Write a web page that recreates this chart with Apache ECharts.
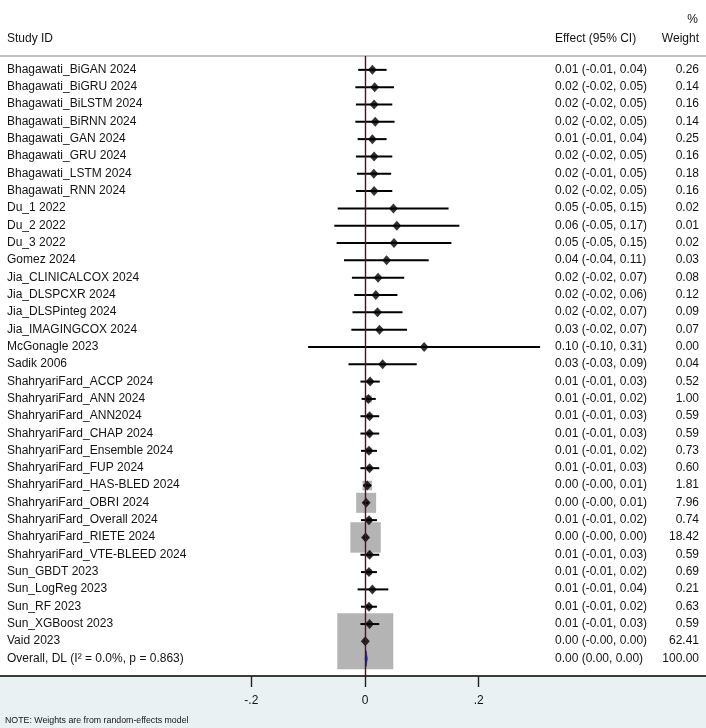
<!DOCTYPE html>
<html>
<head>
<meta charset="utf-8">
<script src="https://cdn.jsdelivr.net/npm/echarts@6.0.0/dist/echarts.min.js"></script>
<style>
  html, body { margin: 0; padding: 0; background: #fff; }
  #chart { width: 706px; height: 728px; }
</style>
</head>
<body>
<div id="chart"></div>
<script>
const studies = [
  'Bhagawati_BiGAN 2024', 'Bhagawati_BiGRU 2024', 'Bhagawati_BiLSTM 2024', 'Bhagawati_BiRNN 2024',
  'Bhagawati_GAN 2024', 'Bhagawati_GRU 2024', 'Bhagawati_LSTM 2024', 'Bhagawati_RNN 2024',
  'Du_1 2022', 'Du_2 2022', 'Du_3 2022', 'Gomez 2024',
  'Jia_CLINICALCOX 2024', 'Jia_DLSPCXR 2024', 'Jia_DLSPinteg 2024', 'Jia_IMAGINGCOX 2024',
  'McGonagle 2023', 'Sadik 2006',
  'ShahryariFard_ACCP 2024', 'ShahryariFard_ANN 2024', 'ShahryariFard_ANN2024', 'ShahryariFard_CHAP 2024',
  'ShahryariFard_Ensemble 2024', 'ShahryariFard_FUP 2024', 'ShahryariFard_HAS-BLED 2024', 'ShahryariFard_OBRI 2024',
  'ShahryariFard_Overall 2024', 'ShahryariFard_RIETE 2024', 'ShahryariFard_VTE-BLEED 2024',
  'Sun_GBDT 2023', 'Sun_LogReg 2023', 'Sun_RF 2023', 'Sun_XGBoost 2023', 'Vaid 2023',
]
// point estimates and CI bounds
const effect = [0.013, 0.017, 0.016, 0.018, 0.013, 0.016, 0.0155, 0.016, 0.050, 0.056, 0.051, 0.038,
  0.023, 0.019, 0.022, 0.0255, 0.104, 0.031, 0.009, 0.006, 0.008, 0.008, 0.007, 0.008, 0.004, 0.002,
  0.007, 0.001, 0.008, 0.007, 0.013, 0.007, 0.008, 0.0005]
const lower = [-0.012, -0.017, -0.016, -0.017, -0.013, -0.016, -0.014, -0.016, -0.048, -0.054, -0.050, -0.037,
  -0.023, -0.019, -0.022, -0.024, -0.100, -0.029, -0.008, -0.006, -0.008, -0.008, -0.007, -0.008, -0.003, -0.002,
  -0.007, -0.002, -0.008, -0.007, -0.013, -0.007, -0.008, -0.001]
const upper = [0.038, 0.051, 0.048, 0.052, 0.038, 0.048, 0.046, 0.048, 0.147, 0.166, 0.152, 0.112,
  0.069, 0.057, 0.066, 0.074, 0.308, 0.091, 0.026, 0.019, 0.025, 0.025, 0.021, 0.025, 0.011, 0.006,
  0.021, 0.004, 0.025, 0.021, 0.041, 0.021, 0.025, 0.001]
const ciText = [
  '0.01 (-0.01, 0.04)', '0.02 (-0.02, 0.05)', '0.02 (-0.02, 0.05)', '0.02 (-0.02, 0.05)',
  '0.01 (-0.01, 0.04)', '0.02 (-0.02, 0.05)', '0.02 (-0.01, 0.05)', '0.02 (-0.02, 0.05)',
  '0.05 (-0.05, 0.15)', '0.06 (-0.05, 0.17)', '0.05 (-0.05, 0.15)', '0.04 (-0.04, 0.11)',
  '0.02 (-0.02, 0.07)', '0.02 (-0.02, 0.06)', '0.02 (-0.02, 0.07)', '0.03 (-0.02, 0.07)',
  '0.10 (-0.10, 0.31)', '0.03 (-0.03, 0.09)',
  '0.01 (-0.01, 0.03)', '0.01 (-0.01, 0.02)', '0.01 (-0.01, 0.03)', '0.01 (-0.01, 0.03)',
  '0.01 (-0.01, 0.02)', '0.01 (-0.01, 0.03)', '0.00 (-0.00, 0.01)', '0.00 (-0.00, 0.01)',
  '0.01 (-0.01, 0.02)', '0.00 (-0.00, 0.00)', '0.01 (-0.01, 0.03)',
  '0.01 (-0.01, 0.02)', '0.01 (-0.01, 0.04)', '0.01 (-0.01, 0.02)', '0.01 (-0.01, 0.03)', '0.00 (-0.00, 0.00)',
]
const weights = [0.26, 0.14, 0.16, 0.14, 0.25, 0.16, 0.18, 0.16, 0.02, 0.01, 0.02, 0.03,
  0.08, 0.12, 0.09, 0.07, 0.00, 0.04, 0.52, 1.00, 0.59, 0.59, 0.73, 0.60, 1.81, 7.96,
  0.74, 18.42, 0.59, 0.69, 0.21, 0.63, 0.59, 62.41]

const pooledLabel = 'Overall, DL (I² = 0.0%, p = 0.863)'
const pooledCi = [0.0002, 0.0020, 0.0042]
const pooledText = '0.00 (0.00, 0.00)'
const pooledWeight = 100.00

const labels = [...studies, pooledLabel]
const ciLabels = [...ciText, pooledText]
const weightLabels = [...weights, pooledWeight].map((w) => w.toFixed(2))

const W = 706
const zeroX = 365
const pxPerUnit = 568.5
const textColor = '#141414'
const font = '"Liberation Sans", Arial, Helvetica, sans-serif'
const boxScale = 7.09

const chart = echarts.init(document.getElementById('chart'), null, { renderer: 'canvas' })

chart.setOption({
  animation: false,
  backgroundColor: '#e9f1f3',
  grid: [
    { left: 0, right: 0, top: 56, bottom: 52, show: true, backgroundColor: '#fff', borderWidth: 0 },
    { left: zeroX - 0.2 * pxPerUnit, width: 0.4 * pxPerUnit, top: 56, bottom: 52 },
  ],
  xAxis: [
    {
      type: 'value', gridIndex: 0,
      min: -zeroX / pxPerUnit, max: (W - zeroX) / pxPerUnit,
      axisLine: { show: true, onZero: false, lineStyle: { color: '#3a3a3a', width: 2 } },
      axisTick: { show: false }, axisLabel: { show: false }, splitLine: { show: false },
    },
    {
      type: 'value', gridIndex: 1, min: -0.2, max: 0.2, interval: 0.2, position: 'bottom',
      axisLine: { show: false, onZero: false },
      axisTick: { show: true, length: 11, lineStyle: { color: '#222', width: 1.4 } },
      axisLabel: {
        margin: 19, fontSize: 12, color: textColor, fontFamily: font,
        formatter: (v) => (v === 0 ? '0' : (v < 0 ? '-' : '') + String(Math.abs(+v.toFixed(2))).replace(/^0/, '')),
      },
      splitLine: { show: false },
    },
  ],
  yAxis: [
    { type: 'value', gridIndex: 0, min: -0.8, max: 35, inverse: true, show: false },
    { type: 'value', gridIndex: 1, min: -0.8, max: 35, inverse: true, show: false },
  ],
  graphic: [
    { type: 'rect', shape: { x: 0, y: 0, width: W, height: 56 }, style: { fill: '#fff' }, silent: true },
    { type: 'line', shape: { x1: 0, y1: 56, x2: W, y2: 56 }, style: { stroke: '#c2c2c2', lineWidth: 2 }, silent: true },
    { type: 'text', x: 7, y: 39, style: { text: 'Study ID', fill: textColor, fontSize: 12, fontFamily: font, verticalAlign: 'middle' } },
    { type: 'text', x: 555, y: 39, style: { text: 'Effect (95% CI)', fill: textColor, fontSize: 12, fontFamily: font, verticalAlign: 'middle' } },
    { type: 'text', x: 699, y: 39, style: { text: 'Weight', fill: textColor, fontSize: 12, fontFamily: font, align: 'right', verticalAlign: 'middle' } },
    { type: 'text', x: 698, y: 20, style: { text: '%', fill: textColor, fontSize: 12, fontFamily: font, align: 'right', verticalAlign: 'middle' } },
    { type: 'text', x: 5, y: 721, style: { text: 'NOTE: Weights are from random-effects model', fill: textColor, fontSize: 8.8, fontFamily: font, verticalAlign: 'middle' } },
  ],
  series: [
    {
      // weight boxes, area proportional to % weight
      type: 'custom', name: 'weight', z: 1, xAxisIndex: 0, yAxisIndex: 0,
      data: studies.map((_, i) => [effect[i], i, weights[i]]),
      encode: { x: 0, y: 1 },
      renderItem(params, api) {
        const c = api.coord([api.value(0), api.value(1)])
        const s = boxScale * Math.sqrt(api.value(2))
        return { type: 'rect', shape: { x: c[0] - s / 2, y: c[1] - s / 2, width: s, height: s }, style: { fill: '#b4b4b4' } }
      },
      markLine: {
        silent: true, symbol: ['none', 'none'], label: { show: false },
        lineStyle: { color: '#3a1c1c', width: 1.4, type: 'solid' },
        data: [{ xAxis: 0 }],
      },
    },
    {
      // confidence intervals
      type: 'custom', name: 'ci', z: 3, xAxisIndex: 0, yAxisIndex: 0,
      data: studies.map((_, i) => [lower[i], upper[i], i]),
      encode: { x: [0, 1], y: 2 },
      renderItem(params, api) {
        const a = api.coord([api.value(0), api.value(2)])
        const b = api.coord([api.value(1), api.value(2)])
        return { type: 'line', shape: { x1: a[0], y1: a[1], x2: b[0], y2: b[1] }, style: { stroke: '#000', lineWidth: 2 } }
      },
    },
    {
      type: 'scatter', name: 'effect', z: 4, xAxisIndex: 0, yAxisIndex: 0,
      symbol: 'diamond', symbolSize: [9, 10],
      itemStyle: { color: '#000' },
      data: studies.map((_, i) => [effect[i], i]),
    },
    {
      // pooled estimate diamond
      type: 'custom', name: 'pooled', z: 4, xAxisIndex: 0, yAxisIndex: 0,
      data: [[pooledCi[0], pooledCi[1], pooledCi[2], studies.length]],
      encode: { x: [0, 1, 2], y: 3 },
      renderItem(params, api) {
        const row = api.value(3)
        const l = api.coord([api.value(0), row])
        const m = api.coord([api.value(1), row])
        const r = api.coord([api.value(2), row])
        const h = api.size([0, 1])[1] * 0.45
        return {
          type: 'polygon',
          shape: { points: [[l[0], l[1]], [m[0], m[1] - h], [r[0], r[1]], [m[0], m[1] + h]] },
          style: { fill: '#1c2a8c', stroke: '#1c2a8c', lineWidth: 0.6 },
        }
      },
    },
    {
      // text columns
      type: 'custom', name: 'text', z: 5, xAxisIndex: 0, yAxisIndex: 0, silent: true,
      data: labels.map((_, i) => [0, i]),
      encode: { x: 0, y: 1 },
      renderItem(params, api) {
        const i = api.value(1)
        const y = Math.round(api.coord([0, i])[1])
        const base = { fill: textColor, fontSize: 12, fontFamily: font, verticalAlign: 'middle' }
        return {
          type: 'group',
          children: [
            { type: 'text', style: { ...base, x: 7, y, text: labels[i] } },
            { type: 'text', style: { ...base, x: 555, y, text: ciLabels[i] } },
            { type: 'text', style: { ...base, x: 699, y, text: weightLabels[i], align: 'right' } },
          ],
        }
      },
    },
  ],
})
</script>
</body>
</html>
